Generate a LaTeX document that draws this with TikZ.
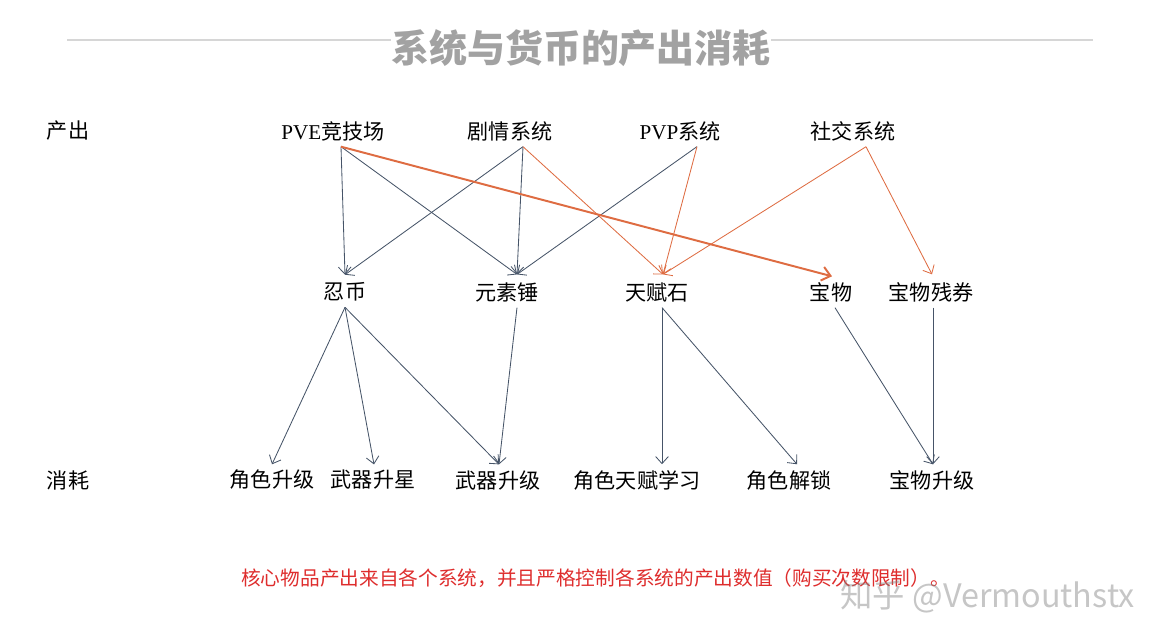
\documentclass[tikz,border=0pt]{standalone}
\usepackage{fontspec}
\setmainfont{Liberation Serif}
\newfontfamily\cjk{Noto Sans CJK SC}
\usetikzlibrary{arrows.meta,calc}
\definecolor{slate}{RGB}{70,84,104}
\definecolor{accent}{RGB}{222,108,66}
\definecolor{notered}{RGB}{222,45,45}
\definecolor{titlegray}{RGB}{162,162,162}
\definecolor{rulegray}{RGB}{214,214,214}
\begin{document}
\begin{tikzpicture}[
	x=0.025cm, y=-0.025cm,
	item/.style={ inner sep=4pt, font=\cjk\fontsize{15}{17}\selectfont },
	flow/.style={ draw=slate, line width=0.6pt, -{Straight Barb[length=5pt,width=9pt]} },
	hotflow/.style={ draw=accent, line width=0.6pt, -{Straight Barb[length=5pt,width=9pt]} },
	mainflow/.style={ draw=accent, line width=1.4pt, -{Straight Barb[length=6pt,width=10pt]} }
]
	\useasboundingbox (0,0) rectangle (1160,640);

	% title
	\node[inner sep=0pt, text=titlegray, font=\cjk\bfseries\fontsize{27}{30}\selectfont] (title) at (581,48) {系统与货币的产出消耗};
	\coordinate (ruleL) at (67,40);
	\coordinate (ruleR) at (1093,40);
	\draw[rulegray, line width=1.5pt] (ruleL) -- (ruleL -| title.west);
	\draw[rulegray, line width=1.5pt] (ruleR -| title.east) -- (ruleR);

	% row labels
	\node[item] (gain) at (68,131) {产出};
	\node[item] (cost) at (68,480) {消耗};

	% sources
	\node[item] (pve) at (333,131) {{\rmfamily PVE}竞技场};
	\node[item] (story) at (510,131) {剧情系统};
	\node[item] (pvp) at (680,131) {{\rmfamily PVP}系统};
	\node[item] (social) at (853,131) {社交系统};

	% currencies
	\node[item] (coin) at (345,292) {忍币};
	\node[item] (hammer) at (507,292) {元素锤};
	\node[item] (talent) at (657,292) {天赋石};
	\node[item] (treasure) at (831,292) {宝物};
	\node[item] (shard) at (931,292) {宝物残券};

	% sinks
	\node[item] (rolelvl) at (272,480) {角色升级};
	\node[item] (wstar) at (373,480) {武器升星};
	\node[item] (wlvl) at (498,480) {武器升级};
	\node[item] (learn) at (637,480) {角色天赋学习};
	\node[item] (unlock) at (789,480) {角色解锁};
	\node[item] (tlvl) at (932,480) {宝物升级};

	% sources -> currencies
	\foreach \a/\ax/\b/\bx in {pve/8/coin/0, pve/8/hammer/10, story/13/coin/0, story/13/hammer/10, pvp/17/hammer/10}
		\draw[flow] ($(\a.south)+(\ax,0)$) -- ($(\b.north)+(\bx,-2)$);
	\foreach \a/\ax/\b/\bx in {story/13/talent/6, pvp/17/talent/6, social/13/talent/6, social/13/shard/1}
		\draw[hotflow] ($(\a.south)+(\ax,0)$) -- ($(\b.north)+(\bx,-2)$);
	\draw[mainflow] ($(pve.south)+(8,0)$) -- ($(treasure.north)+(1,0)$);

	% currencies -> sinks
	\foreach \a/\ax/\b/\bx in {coin/0/rolelvl/0, coin/0/wstar/1, coin/0/wlvl/1, hammer/10/wlvl/1, talent/5/learn/25, talent/5/unlock/8, treasure/4/tlvl/1, shard/2/tlvl/1}
		\draw[flow] ($(\a.south)+(\ax,0)$) -- ($(\b.north)+(\bx,0)$);

	% note
	\node[anchor=west, inner sep=0pt, text=notered, font=\cjk\fontsize{14}{16}\selectfont] (note) at (241,578) {核心物品产出来自各个系统，并且严格控制各系统的产出数值（购买次数限制）。};
	\node[anchor=east, inner sep=0pt, text=gray, opacity=0.45, font=\cjk\fontsize{23}{26}\selectfont] (mark) at (1135,597) {知乎 @Vermouthstx};
\end{tikzpicture}
\end{document}
